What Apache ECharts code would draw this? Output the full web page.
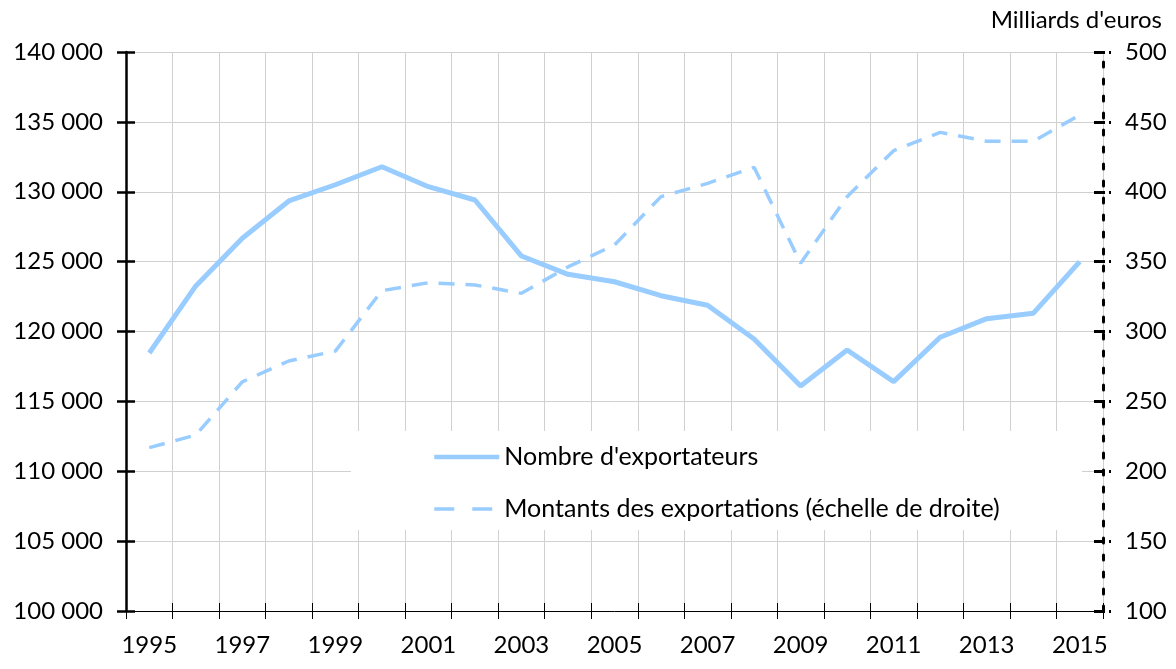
<!DOCTYPE html>
<html><head><meta charset="utf-8">
<script src="https://cdn.jsdelivr.net/npm/echarts@6/dist/echarts.min.js"></script>
<style>html,body{margin:0;padding:0;background:#fff}#c{width:1176px;height:669px}</style>
</head><body><div id="c"></div>
<script>
const years = ['1995','1996','1997','1998','1999','2000','2001','2002','2003','2004','2005','2006','2007','2008','2009','2010','2011','2012','2013','2014','2015'];
const exporters = [118460,123260,126670,129340,130500,131790,130360,129410,125400,124090,123560,122560,121880,119460,116100,118680,116410,119590,120920,121300,125000];
const amounts = [216.9,225.9,264.0,278.9,286.0,329.2,334.9,333.3,327.3,346.2,361.9,396.5,406.0,417.5,348.8,396.5,429.4,442.5,436.1,436.1,454.9];
const seriesNames = ["Nombre d'exportateurs", "Montants des exportations (échelle de droite)"];
const unitLabel = "Milliards d'euros";
const leftAxis = {min:100000, max:140000, step:5000};
const rightAxis = {min:100, max:500, step:50};

const FONT = 'Lato';
const blue = '#99CCFF';
const fmtThousands = v => String(v).replace(/\B(?=(\d{3})+(?!\d))/g, ' ');

const chart = echarts.init(document.getElementById('c'));
chart.setOption({
  animation: false,
  backgroundColor: '#fff',
  textStyle: {fontFamily: FONT},
  grid: {left: 126, right: 73, top: 52, bottom: 58, containLabel: false},
  graphic: [
    {type: 'rect', z: 1, shape: {x: 351, y: 431, width: 731, height: 99}, style: {fill: '#fff'}},
    {type: 'text', z: 5, right: 14, top: 8, style: {text: unitLabel, font: '24px ' + FONT, fill: '#000'}}
  ],
  legend: {
    orient: 'vertical', left: 432, top: 443, padding: 0, itemGap: 24,
    itemWidth: 65, itemHeight: 14,
    textStyle: {fontFamily: FONT, fontSize: 25, color: '#000', lineHeight: 28},
    itemStyle: {opacity: 0},
    data: [
      {name: seriesNames[0], itemStyle: {opacity: 0}, lineStyle: {width: 4.5}},
      {name: seriesNames[1], itemStyle: {opacity: 0}, lineStyle: {width: 3.5, type: [20, 18]}}
    ]
  },
  xAxis: [
    {
      type: 'category', data: years, boundaryGap: true, position: 'bottom',
      axisLine: {show: true, lineStyle: {color: '#000', width: 1}},
      axisTick: {show: true, interval: 0, length: 8, lineStyle: {color: '#000', width: 1}},
      axisLabel: {interval: 1, margin: 22, fontFamily: FONT, fontSize: 24, color: '#000'},
      splitLine: {show: true, interval: 0, lineStyle: {color: '#d0d0d0', width: 1}}
    },
    {
      type: 'category', data: years, boundaryGap: true, position: 'bottom',
      axisLine: {show: false},
      axisTick: {show: true, inside: true, interval: 0, length: 8, lineStyle: {color: '#000', width: 1}},
      axisLabel: {show: false}, splitLine: {show: false}
    }
  ],
  yAxis: [
    {
      type: 'value', position: 'left', min: leftAxis.min, max: leftAxis.max, interval: leftAxis.step,
      axisLine: {show: true, lineStyle: {color: '#000', width: 2.5}},
      axisTick: {show: true, length: 9, lineStyle: {color: '#000', width: 2.5}},
      axisLabel: {margin: 23, fontFamily: FONT, fontSize: 24, color: '#000', formatter: fmtThousands},
      splitLine: {show: true, lineStyle: {color: '#d0d0d0', width: 1}}
    },
    {
      type: 'value', position: 'right', min: rightAxis.min, max: rightAxis.max, interval: rightAxis.step,
      axisLine: {show: true, lineStyle: {color: '#000', width: 3, type: [5, 12]}},
      axisTick: {show: true, length: 9, lineStyle: {color: '#000', width: 3, type: [2, 4]}},
      axisLabel: {margin: 22, fontFamily: FONT, fontSize: 24, color: '#000'},
      splitLine: {show: false}
    },
    {
      type: 'value', position: 'left', min: leftAxis.min, max: leftAxis.max, interval: leftAxis.step,
      axisLine: {show: false},
      axisTick: {show: true, inside: true, length: 9, lineStyle: {color: '#000', width: 2.5}},
      axisLabel: {show: false}, splitLine: {show: false}
    },
    {
      type: 'value', position: 'right', min: rightAxis.min, max: rightAxis.max, interval: rightAxis.step,
      axisLine: {show: false},
      axisTick: {show: true, inside: true, length: 9, lineStyle: {color: '#000', width: 3}},
      axisLabel: {show: false}, splitLine: {show: false}
    }
  ],
  series: [
    {
      name: seriesNames[0], type: 'line', xAxisIndex: 0, yAxisIndex: 0, data: exporters,
      symbol: 'none', z: 3,
      lineStyle: {color: blue, width: 5}, itemStyle: {color: blue}
    },
    {
      name: seriesNames[1], type: 'line', xAxisIndex: 0, yAxisIndex: 1, data: amounts,
      symbol: 'none', z: 3,
      lineStyle: {color: blue, width: 3.5, type: [16, 11]}, itemStyle: {color: blue}
    }
  ]
});
</script>
</body></html>
